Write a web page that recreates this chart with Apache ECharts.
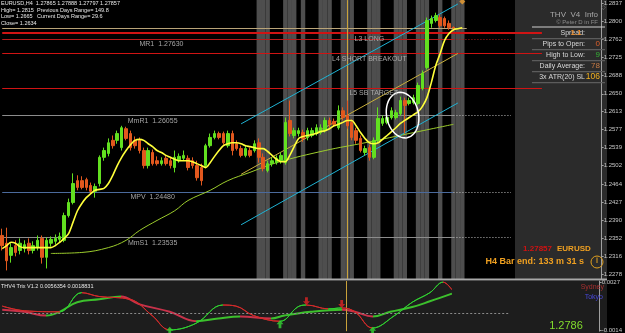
<!DOCTYPE html>
<html><head><meta charset="utf-8">
<script src="https://cdn.jsdelivr.net/npm/echarts@6/dist/echarts.min.js"></script>
<style>html,body{margin:0;padding:0;background:#000;}#c{width:625px;height:333px;}</style>
</head><body><div id="c"></div>
<script>
// ---------------- DATA ----------------
const N_CATS = 136;
const CATS = Array.from({length: N_CATS}, (_, i) => String(i));

const OPEN = [1.2358,1.2342,1.2317,1.2337,1.2327,1.2331,1.2342,1.2327,1.2333,1.2352,
1.2313,1.2342,1.2346,1.2350,1.2348,1.2399,1.2426,1.2471,1.2471,1.2473,
1.2461,1.2449,1.2465,1.2519,1.2527,1.2554,1.2554,1.2539,1.2578,1.2568,
1.2554,1.2554,1.2533,1.2502,1.2529,1.2512,1.2506,1.2517,1.2512,1.2498,
1.2512,1.2517,1.2517,1.2512,1.2502,1.2498,1.2502,1.2543,1.2560,1.2568,
1.2568,1.2543,1.2568,1.2547,1.2537,1.2523,1.2533,1.2533,1.2549,1.2519,
1.2492,1.2506,1.2508,1.2512,1.2508,1.2595,1.2564,1.2568,1.2570,1.2560,
1.2564,1.2568,1.2570,1.2574,1.2595,1.2593,1.2580,1.2615,1.2605,1.2591,
1.2574,1.2558,1.2529,1.2539,1.2519,1.2554,1.2589,1.2591,1.2601,1.2601,
1.2609,1.2636,1.2630,1.2632,1.2630,1.2661,1.2704,1.2795,1.2801,1.2807,
1.2805,1.2795,1.27865];
const CLOSE = [1.2337,1.2306,1.2333,1.2323,1.2342,1.2339,1.2327,1.2337,1.2348,1.2313,
1.2348,1.2350,1.2352,1.2356,1.2399,1.2426,1.2465,1.2457,1.2457,1.2457,
1.2449,1.2459,1.2519,1.2533,1.2549,1.2543,1.2568,1.2580,1.2558,1.2539,
1.2543,1.2533,1.2502,1.2533,1.2506,1.2506,1.2512,1.2506,1.2502,1.2519,
1.2521,1.2523,1.2498,1.2502,1.2477,1.2471,1.2543,1.2560,1.2568,1.2560,
1.2549,1.2568,1.2533,1.2537,1.2523,1.2537,1.2523,1.2547,1.2519,1.2496,
1.2506,1.2512,1.2517,1.2523,1.2591,1.2568,1.2574,1.2574,1.2558,1.2574,
1.2574,1.2580,1.2580,1.2595,1.2587,1.2587,1.2615,1.2601,1.2584,1.2560,
1.2554,1.2533,1.2537,1.2519,1.2554,1.2599,1.2599,1.2601,1.2615,1.2611,
1.2636,1.2626,1.2636,1.2642,1.2667,1.2692,1.2801,1.2805,1.2811,1.2790,
1.2790,1.2786,1.27857];
const LOW = [1.2327,1.2286,1.2302,1.2315,1.2319,1.2323,1.2319,1.2321,1.2327,1.2300,
1.2290,1.2335,1.2339,1.2344,1.2344,1.2395,1.2422,1.2451,1.2453,1.2451,
1.2444,1.2436,1.2459,1.2512,1.2521,1.2537,1.2547,1.2533,1.2554,1.2533,
1.2537,1.2527,1.2496,1.2496,1.2502,1.2502,1.2502,1.2502,1.2496,1.2488,
1.2508,1.2512,1.2492,1.2496,1.2471,1.2461,1.2496,1.2539,1.2556,1.2556,
1.2545,1.2539,1.2523,1.2533,1.2519,1.2519,1.2519,1.2529,1.2508,1.2490,
1.2488,1.2500,1.2504,1.2506,1.2504,1.2562,1.2558,1.2562,1.2551,1.2554,
1.2560,1.2564,1.2566,1.2570,1.2580,1.2582,1.2576,1.2595,1.2578,1.2554,
1.2547,1.2529,1.2523,1.2512,1.2515,1.2549,1.2584,1.2587,1.2597,1.2597,
1.2605,1.2568,1.2626,1.2628,1.2626,1.2657,1.2700,1.2786,1.2797,1.2786,
1.2786,1.2782,1.27797];
const HIGH = [1.2372,1.2374,1.2342,1.2348,1.2352,1.2348,1.2352,1.2346,1.2358,1.2358,
1.2354,1.2356,1.2360,1.2364,1.2405,1.2434,1.2486,1.2482,1.2480,1.2477,
1.2467,1.2465,1.2523,1.2539,1.2558,1.2564,1.2574,1.2584,1.2582,1.2574,
1.2562,1.2560,1.2539,1.2539,1.2535,1.2521,1.2519,1.2523,1.2519,1.2533,
1.2527,1.2533,1.2523,1.2519,1.2512,1.2506,1.2547,1.2568,1.2574,1.2572,
1.2572,1.2574,1.2574,1.2554,1.2543,1.2543,1.2539,1.2554,1.2558,1.2527,
1.2512,1.2519,1.2523,1.2529,1.2601,1.2636,1.2580,1.2580,1.2576,1.2580,
1.2580,1.2587,1.2587,1.2601,1.2601,1.2599,1.2626,1.2622,1.2636,1.2597,
1.2580,1.2564,1.2543,1.2545,1.2560,1.2622,1.2605,1.2607,1.2622,1.2617,
1.2644,1.2642,1.2642,1.2648,1.2673,1.2698,1.2807,1.2811,1.2817,1.2813,
1.2809,1.2801,1.27888];

const FAST_MA = [1.2331,1.2337,1.2344,1.2342,1.2335,1.2333,1.2333,1.2333,1.2333,1.2333,
1.2333,1.2333,1.2337,1.2344,1.2352,1.2362,1.2385,1.2409,1.2424,1.2436,
1.2444,1.2451,1.2453,1.2455,1.2465,1.2482,1.2502,1.2519,1.2533,1.2545,
1.2554,1.2556,1.2554,1.2547,1.2541,1.2533,1.2529,1.2523,1.2519,1.2515,
1.2512,1.2512,1.2512,1.2510,1.2506,1.2502,1.2498,1.2508,1.2521,1.2533,
1.2543,1.2547,1.2549,1.2549,1.2547,1.2543,1.2541,1.2539,1.2537,1.2537,
1.2531,1.2523,1.2515,1.2510,1.2510,1.2523,1.2541,1.2558,1.2562,1.2564,
1.2566,1.2568,1.2572,1.2574,1.2578,1.2584,1.2587,1.2591,1.2595,1.2595,
1.2584,1.2570,1.2558,1.2549,1.2547,1.2549,1.2556,1.2564,1.2572,1.2580,
1.2589,1.2595,1.2601,1.2607,1.2613,1.2624,1.2642,1.2673,1.2708,1.2733,
1.2760,1.2774,1.2782,1.2784,1.2786];

const SLOW_MA = [[11,1.2321],[18,1.2323],[24,1.2333],[28,1.2348],[31,1.2368],[35,1.2389],
[39,1.2409],[42,1.2430],[47,1.2451],[51,1.2471],[56,1.2488],[62,1.2508],[73,1.2533],
[82,1.2549],[93,1.2570],[102,1.2587]];

const CHANNEL_UPPER = [[54,1.2588],[103,1.2835]];
const CHANNEL_LOWER = [[54,1.2380],[103,1.2631]];
const CHANNEL_MID   = [[54,1.2484],[103,1.2733]];

const SESSION_BARS = [58,59,60,64,65,66,68,72,73,74,77,78,79,83,84,85,89,90,91,94,95,96,99,102,103,104];
const MARKER_BAR = 78;

const PRICE_TICKS = [1.2278,1.2316,1.2352,1.2390,1.2427,1.2464,1.2502,1.2539,1.2577,1.2613,1.2650,1.2688,1.2725,1.2762,1.2800,1.2837];
const IND_TICKS = [0.0027,-0.0014];

const PIVOT_NAMES  = ['MR1','MmR1','MPV','MmS1'];
const PIVOT_LEVELS = [1.27630,1.26055,1.24480,1.23535];
const PIVOT_COLORS = ['#b41c1c','#8c8c8c','#4b6a9c','#8c8c8c'];
const PIVOT_LABEL_BAR = [36,34,34,34];

const L_NAMES  = ['L3 LONG','L4 SHORT BREAKOUT','L5 SB TARGET'];
const L_LEVELS = [1.2775,1.2733,1.2662];
const L_LABEL_BAR = [83,83,84];

const BID = 1.27857;

const TRIX_FAST = [[0,0.00065],[5,0.00025],[13,0.00016],[18,0.0018],[22,0.00147],[29,0.00123],[34,-0.00016],
[38,-0.00139],[44,-0.00082],[50,0.00074],[53,0.00065],[57,-0.00016],[63,-0.00065],[67,0.00057],[69,0.00074],
[74,0.00041],[77,0.00049],[80,0.00016],[84,-0.00123],[89,-0.00016],[93,0.00098],[97,0.0018],[100,0.0027],[102,0.00205]];
const TRIX_SIGNAL = [[0,0.00033],[5,0.00016],[10,-0.00016],[13,0.00016],[17,0.00098],[22,0.00123],[27,0.00147],
[31,0.00082],[38,0.00016],[44,-0.00065],[49,-0.00041],[54,-0.00025],[61,-0.00041],[64,-0.00016],[70,0.00016],
[77,0.00033],[80,0.00016],[84,-0.00025],[88,0.00016],[93,0.00057],[97,0.00106],[102,0.00172]];
const BUY_ARROWS  = [[38,-0.00147],[63,-0.0009],[84,-0.00147]];
const SELL_ARROWS = [[69,0.00106],[77,0.00082]];

// ---------------- CHART ----------------
const Y_MIN = 1.22683, Y_MAX = 1.2843;
const IND_MIN = -0.0015, IND_MAX = 0.0028;
const FONT = '"Liberation Sans", Arial, sans-serif';
const chart = echarts.init(document.getElementById('c'));

const candles = OPEN.map((o, i) => [o, CLOSE[i], LOW[i], HIGH[i]]);
const sessionData = CATS.map((c, i) => SESSION_BARS.indexOf(i) >= 0 ? Y_MAX : '-');

function slopePieces(pts, up, down) {
  const pieces = [];
  for (let k = 0; k < pts.length - 1; k++) {
    const col = pts[k + 1][1] >= pts[k][1] ? up : down;
    if (k === pts.length - 2) pieces.push({gte: pts[k][0], lte: pts[k + 1][0], color: col});
    else pieces.push({gte: pts[k][0], lt: pts[k + 1][0], color: col});
  }
  return pieces;
}

const mainLines = [];
PIVOT_LEVELS.forEach((p, k) => {
  mainLines.push([{coord: [0, p], lineStyle: {color: PIVOT_COLORS[k], width: 1, type: 'solid'}}, {coord: [102, p]}]);
  mainLines.push([{coord: [102, p], lineStyle: {color: k === 0 ? '#b41c1c' : '#bdbdbd', width: 1, type: [1, 2]}}, {coord: [115, p]}]);
});
L_LEVELS.forEach((p, k) => {
  mainLines.push([{coord: [0, p], lineStyle: {color: '#d01414', width: k === 0 ? 2 : 1.2, type: 'solid'}}, {coord: [122, p]}]);
  mainLines.push({yAxis: p, lineStyle: {opacity: 0},
    label: {show: true, position: 'end', distance: 1, formatter: p.toFixed(4), color: '#fff', backgroundColor: '#d01414',
      fontSize: 6, fontFamily: FONT, padding: [1, 1, 0, 1]}});
});
mainLines.push([{coord: [0, BID], lineStyle: {color: '#b9a478', width: 1, type: 'solid'}}, {coord: [105, BID]}]);
mainLines.push({yAxis: BID, lineStyle: {opacity: 0},
  label: {show: true, position: 'end', distance: 1, formatter: BID.toFixed(4), color: '#000', backgroundColor: '#f2f2f2',
    fontSize: 6, fontFamily: FONT, padding: [1, 1, 0, 1]}});
mainLines.push({xAxis: CATS[MARKER_BAR], lineStyle: {color: '#c9a23a', width: 1, type: 'solid'}});

const option = {
  backgroundColor: '#000',
  animation: false,
  grid: [{left: 0, right: 18, top: 0, height: 279}, {left: 0, right: 18, top: 281, height: 52}],
  xAxis: [
    {type: 'category', data: CATS, gridIndex: 0, show: false, boundaryGap: true},
    {type: 'category', data: CATS, gridIndex: 1, show: false, boundaryGap: true}
  ],
  yAxis: [
    {gridIndex: 0, position: 'right', min: Y_MIN, max: Y_MAX, scale: true, splitLine: {show: false},
      axisLine: {show: true, lineStyle: {color: '#a0a0a0'}},
      axisTick: {show: true, customValues: PRICE_TICKS, length: 2, lineStyle: {color: '#a0a0a0'}},
      axisLabel: {customValues: PRICE_TICKS, formatter: v => v.toFixed(4), color: '#c8c8c8', fontSize: 6, margin: 2, fontFamily: FONT}},
    {gridIndex: 1, position: 'right', min: IND_MIN, max: IND_MAX, scale: true, splitLine: {show: false},
      axisLine: {show: true, lineStyle: {color: '#a0a0a0'}},
      axisTick: {show: true, customValues: IND_TICKS, length: 2, lineStyle: {color: '#a0a0a0'}},
      axisLabel: {customValues: IND_TICKS, formatter: v => v.toFixed(4), color: '#c8c8c8', fontSize: 6, margin: 2, fontFamily: FONT}}
  ],
  visualMap: [
    {type: 'piecewise', show: false, seriesIndex: 8, dimension: 0, pieces: slopePieces(TRIX_FAST, '#2fcf2f', '#d42a2a')},
    {type: 'piecewise', show: false, seriesIndex: 9, dimension: 0, pieces: slopePieces(TRIX_SIGNAL, '#3cc02c', '#c8324a')}
  ],
  series: [
    {type: 'bar', name: 'sessions', xAxisIndex: 0, yAxisIndex: 0, data: sessionData, barWidth: '100%', barGap: '-100%',
      itemStyle: {color: '#4e4e4e'}, silent: true, z: 1},
    {type: 'candlestick', name: 'EURUSD,H4', xAxisIndex: 0, yAxisIndex: 0, data: candles, barWidth: 3, z: 5,
      itemStyle: {color: '#62e020', color0: '#e2581e', borderColor: '#62e020', borderColor0: '#e2581e', borderWidth: 1},
      markLine: {silent: true, symbol: ['none', 'none'], animation: false, label: {show: false},
        lineStyle: {type: 'solid'}, data: mainLines, z: 3}},
    {type: 'line', name: 'fast', xAxisIndex: 0, yAxisIndex: 0, data: FAST_MA, showSymbol: false, smooth: 0.3,
      lineStyle: {color: '#ffff3a', width: 1.6}, z: 6},
    {type: 'line', name: 'slow', xAxisIndex: 0, yAxisIndex: 0, data: SLOW_MA, showSymbol: false, smooth: 0.4,
      lineStyle: {color: '#9ccc2c', width: 1}, z: 4},
    {type: 'line', name: 'chUp', xAxisIndex: 0, yAxisIndex: 0, data: CHANNEL_UPPER, showSymbol: false,
      lineStyle: {color: '#1fb3d4', width: 1}, z: 4},
    {type: 'line', name: 'chLow', xAxisIndex: 0, yAxisIndex: 0, data: CHANNEL_LOWER, showSymbol: false,
      lineStyle: {color: '#1fb3d4', width: 1}, z: 4},
    {type: 'line', name: 'chMid', xAxisIndex: 0, yAxisIndex: 0, data: CHANNEL_MID, showSymbol: false,
      lineStyle: {color: '#c9b03c', width: 1}, z: 4},
    {type: 'scatter', name: 'mark', xAxisIndex: 0, yAxisIndex: 0, data: [[104, 1.2840]], symbol: 'diamond', symbolSize: 6,
      itemStyle: {color: '#f0a030'}, z: 7},
    {type: 'line', name: 'trix', xAxisIndex: 1, yAxisIndex: 1, data: TRIX_FAST, showSymbol: false, smooth: 0.4,
      lineStyle: {width: 1}, z: 5},
    {type: 'line', name: 'signal', xAxisIndex: 1, yAxisIndex: 1, data: TRIX_SIGNAL, showSymbol: false, smooth: 0.4,
      lineStyle: {width: 2}, z: 4,
      markLine: {silent: true, symbol: ['none', 'none'], animation: false, label: {show: false}, lineStyle: {type: 'solid'}, data: [
        [{coord: [0, 0], lineStyle: {color: '#8a8a8a', width: 1, type: [2, 2]}}, {coord: [115, 0]}],
        {yAxis: 0, lineStyle: {opacity: 0}, label: {show: true, position: 'end', distance: 1, formatter: '0.0000', color: '#000',
          backgroundColor: '#9a9a9a', fontSize: 6, fontFamily: FONT, padding: [1, 1, 0, 1]}},
        {xAxis: CATS[MARKER_BAR], lineStyle: {color: '#c9a23a', width: 1, type: 'solid'}}
      ]}},
    {type: 'scatter', name: 'buy', xAxisIndex: 1, yAxisIndex: 1, data: BUY_ARROWS,
      symbol: 'path://M5,0 L10,5 L7,5 L7,10 L3,10 L3,5 L0,5 Z', symbolSize: [7, 8], itemStyle: {color: '#34d834'}, z: 6},
    {type: 'scatter', name: 'sell', xAxisIndex: 1, yAxisIndex: 1, data: SELL_ARROWS, symbolRotate: 180,
      symbol: 'path://M5,0 L10,5 L7,5 L7,10 L3,10 L3,5 L0,5 Z', symbolSize: [7, 8], itemStyle: {color: '#e02424'}, z: 6}
  ]
};
chart.setOption(option);

// ---------------- ANNOTATIONS ----------------
function px(i, p) { return chart.convertToPixel({xAxisIndex: 0, yAxisIndex: 0}, [i, p]); }
function txt(x, y, text, size, fill, align, extra) {
  return {type: 'text', x: x, y: y, z: 30,
    style: {text: text, fill: fill, font: (extra && extra.bold ? 'bold ' : '') + size + 'px ' + ((extra && extra.family) || FONT),
      textAlign: align || 'left', textVerticalAlign: 'middle'}};
}
const g = [];
g.push({type: 'rect', z: -5, shape: {x: 0, y: 281, width: 607, height: 52}, style: {fill: '#1d1d1d'}});
g.push({type: 'rect', z: -5, shape: {x: 515, y: 0, width: 92, height: 279}, style: {fill: '#2b2b2b'}});
g.push({type: 'rect', z: 20, shape: {x: 0, y: 278.5, width: 607, height: 2}, style: {fill: '#a8a8a8'}});

// top-left info
g.push(txt(1, 3.5, 'EURUSD,H4  1.27865 1.27888 1.27797 1.27857', 5.5, '#e8e8e8'));
g.push(txt(1, 10, 'High= 1.2815', 5.5, '#e8e8e8'));
g.push(txt(37, 10, 'Previous Days Range= 149.8', 5.5, '#e8e8e8'));
g.push(txt(1, 16.5, 'Low= 1.2665', 5.5, '#e8e8e8'));
g.push(txt(37, 16.5, 'Current Days Range= 29.6', 5.5, '#e8e8e8'));
g.push(txt(1, 23, 'Close= 1.2634', 5.5, '#e8e8e8'));

// level labels
PIVOT_LEVELS.forEach((p, k) => {
  const pt = px(PIVOT_LABEL_BAR[k], p);
  g.push(txt(pt[0], pt[1] + 5.5, PIVOT_NAMES[k] + '  ' + p.toFixed(5), 7, '#a6a6a6', 'center'));
});
L_LEVELS.forEach((p, k) => {
  const pt = px(L_LABEL_BAR[k], p);
  g.push(txt(pt[0], pt[1] + 5.5, L_NAMES[k], 7, '#a6a6a6', 'center'));
});

// ellipse annotation
const c1 = px(90, 1.2606), c2 = px(91, 1.2606);
const cx = (c1[0] + c2[0]) / 2, cy = c1[1];
const a = -0.2, pts = [];
for (let k = 0; k < 48; k++) {
  const t = k / 48 * Math.PI * 2;
  pts.push([cx + 16 * Math.cos(t) * Math.cos(a) - 23 * Math.sin(t) * Math.sin(a),
            cy + 16 * Math.cos(t) * Math.sin(a) + 23 * Math.sin(t) * Math.cos(a)]);
}
g.push({type: 'polygon', z: 25, shape: {points: pts}, style: {fill: null, stroke: '#ffffff', lineWidth: 1.5}});

// info panel
g.push(txt(603, 7, '\u25C7', 6, '#8a8a8a', 'center'));
g.push(txt(598, 15, 'THV  V4  Info', 8, '#a8a8a8', 'right'));
g.push(txt(598, 22.5, '\u00A9 Peter D in FF', 6, '#8c8c8c', 'right'));
g.push({type: 'rect', z: 25, shape: {x: 532, y: 26.5, width: 73, height: 1}, style: {fill: '#d0d0d0'}});
const ROW_LABELS = ['Spread:', 'Pips to Open:', 'High to Low:', 'Daily Average:', '3x ATR(20) SL'];
const ROW_VALUES = ['1.1', '0', '9', '78', '106'];
const ROW_COLORS = ['#e88a2a', '#e0602a', '#36b536', '#c57a45', '#f0b020'];
ROW_LABELS.forEach((l, k) => {
  const y = 33 + k * 11;
  g.push(txt(585, y, l, 7, '#dadada', 'right'));
  g.push({type: 'rect', z: 25, shape: {x: 532, y: y + 5, width: 73, height: 1.2}, style: {fill: '#5c5c5c'}});
  if (k === 0) g.push(txt(576, y, ROW_VALUES[k], 8, ROW_COLORS[k], 'center', {bold: true}));
  else g.push(txt(600, y, ROW_VALUES[k], k === 4 ? 8.5 : 8, ROW_COLORS[k], 'right'));
});
g.push(txt(552, 249, '1.27857', 8, '#d01212', 'right', {bold: true, family: '"Liberation Sans Narrow", ' + FONT}));
g.push(txt(557, 249, 'EURUSD', 8, '#f0a020', 'left', {bold: true, family: '"Liberation Sans Narrow", ' + FONT}));
g.push(txt(584, 262, 'H4 Bar end: 133 m 31 s', 9, '#f0a020', 'right', {bold: true, family: '"Liberation Sans Narrow", ' + FONT}));
g.push({type: 'circle', z: 25, shape: {cx: 597, cy: 262, r: 6}, style: {fill: null, stroke: '#e0a020', lineWidth: 1}});
g.push({type: 'line', z: 25, shape: {x1: 597, y1: 257.5, x2: 597, y2: 263}, style: {stroke: '#e0a020', lineWidth: 1}});

// indicator texts
g.push(txt(1, 286, 'THV4 Trix V1.2 0.0056354 0.0018831', 5.5, '#e8e8e8'));
g.push(txt(604, 287, 'Sydney', 7, '#a83030', 'right'));
g.push(txt(603, 297, 'Tokyo', 7, '#4848d8', 'right'));
g.push(txt(566, 326, '1.2786', 11, '#82dc2c', 'center'));

chart.setOption({graphic: g});
</script>
</body></html>
